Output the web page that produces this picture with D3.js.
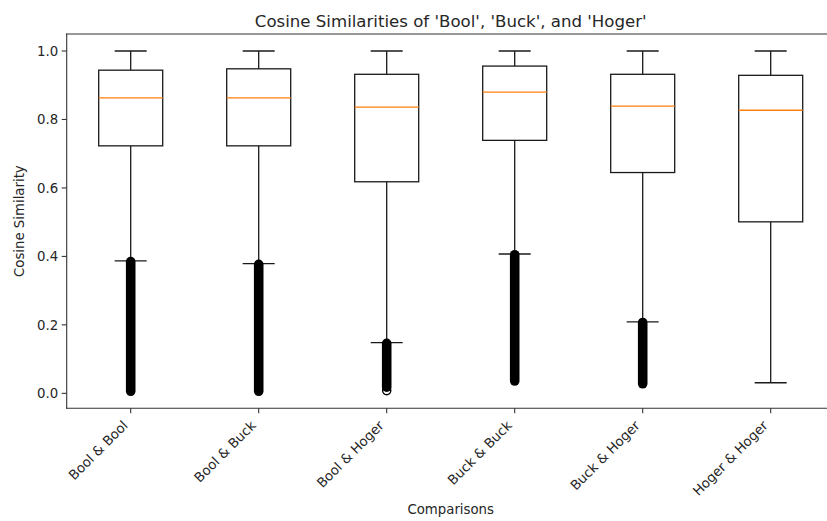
<!DOCTYPE html>
<html>
<head>
<meta charset="utf-8">
<script src="https://cdn.jsdelivr.net/npm/d3@7"></script>
<style>
  html, body { margin: 0; padding: 0; background: #fff; }
  svg { display: block; font-family: "DejaVu Sans", sans-serif; }
</style>
</head>
<body>
<svg id="chart" width="827" height="521"></svg>
<script>
// Box-plot summary statistics per comparison
const categories = ["Bool & Bool", "Bool & Buck", "Bool & Hoger", "Buck & Buck", "Buck & Hoger", "Hoger & Hoger"];
const whiskerHigh = [1.0, 1.0, 1.0, 1.0, 1.0, 1.0];
const q3 = [0.944, 0.948, 0.932, 0.956, 0.932, 0.929];
const median = [0.863, 0.863, 0.836, 0.880, 0.839, 0.827];
const q1 = [0.723, 0.723, 0.618, 0.739, 0.645, 0.501];
const whiskerLow = [0.387, 0.379, 0.148, 0.407, 0.209, 0.031];
// Outliers are so dense they merge into a solid column: stored as [top, bottom] extents
const flierTop = [0.385, 0.377, 0.146, 0.405, 0.207, null];
const flierBottom = [0.006, 0.006, 0.018, 0.036, 0.028, null];
// Isolated outliers drawn as individual markers
const loneFliers = [[], [], [0.008], [], [], []];
const yTicks = [0.0, 0.2, 0.4, 0.6, 0.8, 1.0];

const svg = d3.select("#chart");
const plotLeft = 66.7, plotRight = 834.7, plotTop = 34, plotBottom = 408.3;
const labelSize = 13.3, titleSize = 16.6, textColor = "#262626";

// y-limits with a 5% margin around the data range
const dataMin = d3.min([...whiskerLow, ...flierBottom.filter(v => v != null), ...loneFliers.flat()]);
const dataMax = d3.max(whiskerHigh);
const pad = (dataMax - dataMin) * 0.05;

const x = d3.scaleLinear().domain([0.5, categories.length + 0.5]).range([plotLeft, plotRight]);
const y = d3.scaleLinear().domain([dataMin - pad, dataMax + pad]).range([plotBottom, plotTop]);

const boxW = x(1.25) - x(1);      // half width of box (0.5 units total)
const capW = x(1.125) - x(1);     // half width of whisker caps (0.25 units total)
const lineColor = "#1a1a1a";

const g = svg.append("g");

categories.forEach((c, i) => {
  const cx = x(i + 1);
  const grp = g.append("g");
  // whiskers
  grp.append("line").attr("x1", cx).attr("x2", cx).attr("y1", y(q3[i])).attr("y2", y(whiskerHigh[i]))
    .attr("stroke", lineColor).attr("stroke-width", 1.3);
  grp.append("line").attr("x1", cx).attr("x2", cx).attr("y1", y(q1[i])).attr("y2", y(whiskerLow[i]))
    .attr("stroke", lineColor).attr("stroke-width", 1.3);
  // caps
  [whiskerHigh[i], whiskerLow[i]].forEach(v => {
    grp.append("line").attr("x1", cx - capW).attr("x2", cx + capW).attr("y1", y(v)).attr("y2", y(v))
      .attr("stroke", lineColor).attr("stroke-width", 1.3);
  });
  // box
  grp.append("rect").attr("x", cx - boxW).attr("y", y(q3[i]))
    .attr("width", 2 * boxW).attr("height", y(q1[i]) - y(q3[i]))
    .attr("fill", "none").attr("stroke", lineColor).attr("stroke-width", 1.3);
  // median
  grp.append("line").attr("x1", cx - boxW).attr("x2", cx + boxW).attr("y1", y(median[i])).attr("y2", y(median[i]))
    .attr("stroke", "#ff7f0e").attr("stroke-width", 1.4);
  // dense outlier column
  if (flierTop[i] != null) {
    grp.append("line").attr("x1", cx).attr("x2", cx).attr("y1", y(flierTop[i])).attr("y2", y(flierBottom[i]))
      .attr("stroke", "#000").attr("stroke-width", 9.6).attr("stroke-linecap", "round");
  }
  // isolated outliers
  loneFliers[i].forEach(v => {
    grp.append("circle").attr("cx", cx).attr("cy", y(v)).attr("r", 4.1)
      .attr("fill", "none").attr("stroke", "#000").attr("stroke-width", 1.4);
  });
});

// spines
[[plotLeft, plotTop, plotLeft, plotBottom], [plotLeft, plotBottom, plotRight, plotBottom],
 [plotLeft, plotTop, plotRight, plotTop], [plotRight, plotTop, plotRight, plotBottom]]
  .forEach(([x1, y1, x2, y2]) => {
    svg.append("line").attr("x1", x1).attr("y1", y1).attr("x2", x2).attr("y2", y2)
      .attr("stroke", "#333").attr("stroke-width", 1.1).attr("stroke-linecap", "square");
  });

// y axis ticks and labels
yTicks.forEach(t => {
  svg.append("line").attr("x1", plotLeft - 5).attr("x2", plotLeft).attr("y1", y(t)).attr("y2", y(t))
    .attr("stroke", "#333").attr("stroke-width", 1.1);
  svg.append("text").attr("x", plotLeft - 8.5).attr("y", y(t)).attr("dy", "0.36em")
    .attr("text-anchor", "end").attr("font-size", labelSize).attr("fill", textColor).text(t.toFixed(1));
});

// x axis ticks and rotated labels
categories.forEach((c, i) => {
  const cx = x(i + 1);
  svg.append("line").attr("x1", cx).attr("x2", cx).attr("y1", plotBottom).attr("y2", plotBottom + 5)
    .attr("stroke", "#333").attr("stroke-width", 1.1);
  svg.append("text").attr("transform", `translate(${cx - 2},${plotBottom + 18}) rotate(-45)`)
    .attr("text-anchor", "end").attr("font-size", labelSize).attr("fill", textColor).text(c);
});

// titles
svg.append("text").attr("x", (plotLeft + plotRight) / 2).attr("y", 26.5).attr("text-anchor", "middle")
  .attr("font-size", titleSize).attr("fill", textColor).text("Cosine Similarities of 'Bool', 'Buck', and 'Hoger'");
svg.append("text").attr("x", (plotLeft + plotRight) / 2).attr("y", 514).attr("text-anchor", "middle")
  .attr("font-size", labelSize).attr("fill", textColor).text("Comparisons");
svg.append("text").attr("transform", `translate(24,${(plotTop + plotBottom) / 2}) rotate(-90)`)
  .attr("text-anchor", "middle").attr("font-size", labelSize).attr("fill", textColor).text("Cosine Similarity");
</script>
</body>
</html>
